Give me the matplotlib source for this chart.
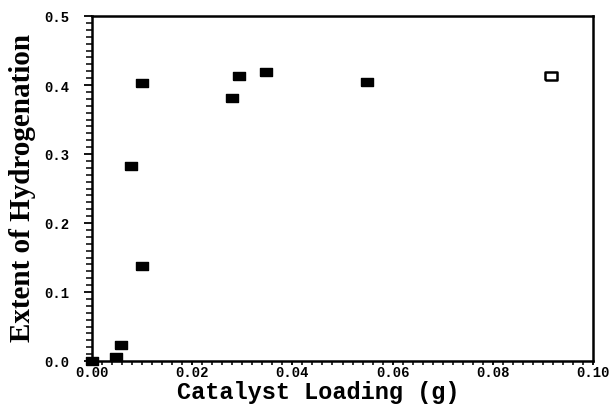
import matplotlib
matplotlib.use("Agg")
import matplotlib.pyplot as plt
import numpy as np
from matplotlib.ticker import MultipleLocator

# catalyst loading (g) and extent of hydrogenation
loading = [0.000, 0.0047, 0.0058, 0.0078, 0.0100, 0.0100, 0.0280, 0.0293, 0.0347, 0.0549]
extent = [0.000, 0.006, 0.023, 0.282, 0.403, 0.137, 0.381, 0.413, 0.419, 0.404]
# the one open symbol
open_loading = [0.0916]
open_extent = [0.413]

box = [(-1.4, -1), (1.4, -1), (1.4, 1), (-1.4, 1), (-1.4, -1)]

fig = plt.figure(figsize=(6.13, 4.06), dpi=100)
ax = fig.add_axes([92 / 613, 1 - 362 / 406, 501 / 613, 345 / 406])

ax.plot(loading, extent, linestyle="none", marker=box, markersize=8,
        color="black", clip_on=False)
ax.plot(open_loading, open_extent, linestyle="none", marker=box, markersize=8,
        markerfacecolor="white", markeredgecolor="black", markeredgewidth=1.8)

ax.set_xlim(0, 0.10)
ax.set_ylim(0, 0.5)
ax.xaxis.set_major_locator(MultipleLocator(0.02))
ax.xaxis.set_minor_locator(MultipleLocator(0.002))
ax.yaxis.set_major_locator(MultipleLocator(0.1))
ax.yaxis.set_minor_locator(MultipleLocator(0.01))
ax.xaxis.set_major_formatter(lambda v, p: f"{v:.2f}")
ax.yaxis.set_major_formatter(lambda v, p: f"{v:.1f}")

for s in ax.spines.values():
    s.set_linewidth(1.8)

ax.tick_params(axis="y", which="major", direction="out", length=6, width=1.3, pad=10)
ax.tick_params(axis="y", which="minor", direction="out", length=4, width=1.1)
ax.tick_params(axis="x", which="major", direction="out", length=3, width=1.3, pad=0)
ax.tick_params(axis="x", which="minor", direction="out", length=3, width=1.1)

for lab in ax.get_xticklabels():
    lab.set_fontfamily("Liberation Mono")
    lab.set_fontweight("bold")
    lab.set_fontsize(10)
for lab in ax.get_yticklabels():
    lab.set_fontfamily("Liberation Mono")
    lab.set_fontweight("bold")
    lab.set_fontsize(10)

fig.text(318 / 613, 1 - 399.5 / 406, "Catalyst Loading (g)", ha="center", va="baseline",
         fontfamily="Liberation Mono", fontweight="bold", fontsize=17)
fig.text(23 / 613, 1 - 188 / 406, "Extent of Hydrogenation", ha="center", va="center",
         rotation=90, fontfamily="Liberation Serif", fontweight="bold", fontsize=21)

fig.savefig("out.png", dpi=100)
